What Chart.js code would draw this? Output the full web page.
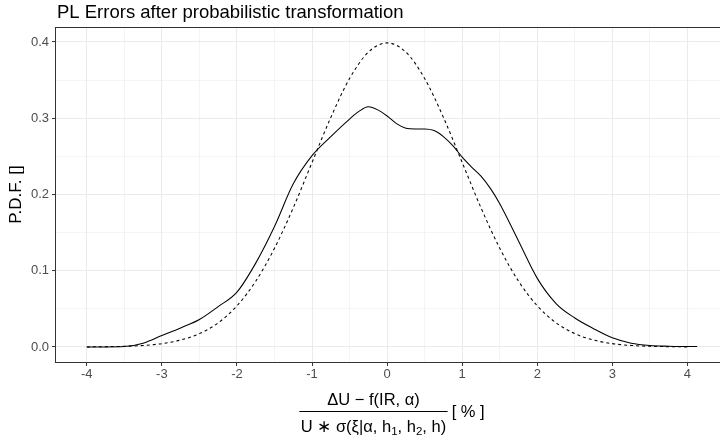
<!DOCTYPE html>
<html><head><meta charset="utf-8">
<script src="https://cdn.jsdelivr.net/npm/chart.js@4"></script>
<style>
html,body{margin:0;padding:0;background:#fff;overflow:hidden;width:720px;height:442px}
#wrap{position:relative;width:740px;height:442px}
canvas{display:block}
</style></head>
<body><div id="wrap"><canvas id="c" width="740" height="442"></canvas></div>
<script>
// ---- data ----
const chartTitle = 'PL Errors after probabilistic transformation';
const yAxisTitle = 'P.D.F. []';
const xTickLabels = ['-4','-3','-2','-1','0','1','2','3','4'];
const yTickLabels = ['0.0','0.1','0.2','0.3','0.4'];

// empirical density (solid line)
const kdeX = [-4, -3.75, -3.5, -3.25, -3, -2.75, -2.5, -2.25, -2, -1.75, -1.5, -1.25, -1, -0.75, -0.5, -0.375, -0.25, -0.125, 0, 0.125, 0.25, 0.375, 0.5, 0.625, 0.75, 0.875, 1, 1.125, 1.25, 1.375, 1.5, 1.625, 1.75, 2, 2.25, 2.5, 2.75, 3, 3.25, 3.5, 3.75, 4, 4.13];
const kdeY = [0, 0, 0.0005, 0.005, 0.015, 0.025, 0.036, 0.053, 0.072, 0.110, 0.158, 0.214, 0.251, 0.276, 0.299, 0.309, 0.315, 0.311, 0.303, 0.293, 0.287, 0.286, 0.286, 0.284, 0.276, 0.264, 0.249, 0.236, 0.224, 0.208, 0.188, 0.164, 0.139, 0.090, 0.057, 0.038, 0.024, 0.012, 0.005, 0.002, 0.001, 0.0005, 0.0005];

// reference density (dashed line)
const refX = [-4, -3.75, -3.5, -3.25, -3, -2.75, -2.5, -2.25, -2, -1.75, -1.5, -1.25, -1, -0.75, -0.5, -0.25, 0, 0.25, 0.5, 0.75, 1, 1.25, 1.5, 1.75, 2, 2.25, 2.5, 2.75, 3, 3.25, 3.5, 3.75, 4];
const refY = [0.0001, 0.0004, 0.0009, 0.002, 0.0044, 0.0091, 0.0175, 0.0317, 0.054, 0.0863, 0.1295, 0.1826, 0.242, 0.3011, 0.3521, 0.3867, 0.3989, 0.3867, 0.3521, 0.3011, 0.242, 0.1826, 0.1295, 0.0863, 0.054, 0.0317, 0.0175, 0.0091, 0.0044, 0.002, 0.0009, 0.0004, 0.0001];

const FONT = '"Liberation Sans", Arial, Helvetica, sans-serif';
const isMajorX = v => xTickLabels.includes(String(Math.round(v))) && Math.abs(v - Math.round(v)) < 1e-6;
const isMajorY = v => Math.abs(v * 10 - Math.round(v * 10)) < 1e-6;

const bgPlugin = {
  id: 'bg',
  beforeDraw(chart) {
    const c = chart.ctx; c.save(); c.fillStyle = '#ffffff';
    c.fillRect(0, 0, chart.width, chart.height); c.restore();
  }
};

const decoPlugin = {
  id: 'deco',
  afterDatasetsDraw(chart) {
    const c = chart.ctx, a = chart.chartArea;
    c.save();
    // panel border
    c.strokeStyle = '#333333'; c.lineWidth = 1;
    c.strokeRect(a.left - 0.5, a.top + 0.5, a.right - a.left + 1, a.bottom - a.top);
    c.restore();
  },
  afterDraw(chart) {
    const c = chart.ctx, a = chart.chartArea;
    c.save();
    // main title
    c.fillStyle = '#000000';
    c.font = '18.5px ' + FONT;
    c.textBaseline = 'alphabetic'; c.textAlign = 'left';
    c.fillText(chartTitle, a.left + 1, 18);

    // x axis title: fraction
    const fs = 16.5, sfs = 11.5;
    const main = fs + 'px ' + FONT, sub = sfs + 'px ' + FONT;
    const num = 'ΔU − f(IR, α)';
    const denParts = [['U ∗ σ(ξ|α, h', 0], ['1', 1], [', h', 0], ['2', 1], [', h)', 0]];
    c.font = main; const numW = c.measureText(num).width;
    let denW = 0;
    denParts.forEach(p => { c.font = p[1] ? sub : main; denW += c.measureText(p[0]).width; });
    const barW = Math.max(numW, denW) + 3;
    c.font = main; const br = '[ % ]'; const brW = c.measureText(br).width;
    const cx = (a.left + a.right) / 2;
    const total = barW + 4 + brW;
    const x0 = cx - total / 2;
    const barY = 411.5;
    c.fillStyle = '#000';
    c.textAlign = 'left';
    c.font = main; c.fillText(num, x0 + (barW - numW) / 2, barY - 6.5);
    c.fillRect(x0, barY - 0.5, barW, 1);
    let dx = x0 + (barW - denW) / 2;
    denParts.forEach(p => {
      c.font = p[1] ? sub : main;
      c.fillText(p[0], dx, p[1] ? barY + 23.5 : barY + 20);
      dx += c.measureText(p[0]).width;
    });
    c.font = main; c.fillText(br, x0 + barW + 4, barY + 5.5);
    c.restore();
  }
};

const toPts = (xs, ys) => xs.map((x, i) => ({ x: x, y: ys[i] }));

new Chart(document.getElementById('c'), {
  type: 'line',
  data: {
    datasets: [
      { label: 'empirical', data: toPts(kdeX, kdeY), borderColor: '#000000', borderWidth: 1.05,
        pointRadius: 0, fill: false, cubicInterpolationMode: 'monotone' },
      { label: 'reference', data: toPts(refX, refY), borderColor: '#000000', borderWidth: 1.05,
        borderDash: [3, 3], pointRadius: 0, fill: false, cubicInterpolationMode: 'monotone' }
    ]
  },
  options: {
    responsive: false, animation: false, devicePixelRatio: 1,
    layout: { padding: { left: 0, top: 27, right: 12, bottom: 0 } },
    plugins: { legend: { display: false }, tooltip: { enabled: false }, title: { display: false } },
    scales: {
      x: {
        type: 'linear', min: -4.41, max: 4.54,
        afterFit: s => { s.height = 80; },
        border: { display: false },
        grid: {
          color: '#EBEBEB',
          lineWidth: ctx => isMajorX(ctx.tick.value) ? 1.07 : 0.55,
          tickColor: ctx => isMajorX(ctx.tick.value) ? '#333333' : 'rgba(0,0,0,0)',
          tickLength: 4, tickWidth: 1, drawTicks: true
        },
        ticks: {
          stepSize: 0.5, includeBounds: false, autoSkip: false, maxRotation: 0,
          color: '#4D4D4D', font: { family: FONT, size: 13 }, padding: 1,
          callback: v => isMajorX(v) ? String(Math.round(v)) : ''
        },
        title: { display: false }
      },
      y: {
        type: 'linear', min: -0.0197, max: 0.4197,
        afterFit: s => { s.width = 56; },
        border: { display: false },
        grid: {
          color: '#EBEBEB',
          lineWidth: ctx => isMajorY(ctx.tick.value) ? 1.07 : 0.55,
          tickColor: ctx => isMajorY(ctx.tick.value) ? '#333333' : 'rgba(0,0,0,0)',
          tickLength: 4, tickWidth: 1, drawTicks: true
        },
        ticks: {
          stepSize: 0.05, includeBounds: false, autoSkip: false,
          color: '#4D4D4D', font: { family: FONT, size: 13 }, padding: 3,
          callback: v => isMajorY(v) ? yTickLabels[Math.round(v * 10)] : ''
        },
        title: { display: true, text: yAxisTitle, color: '#000000',
          font: { family: FONT, size: 17 }, padding: { top: 6, bottom: 0 } }
      }
    }
  },
  plugins: [bgPlugin, decoPlugin]
});
</script>
</body></html>
